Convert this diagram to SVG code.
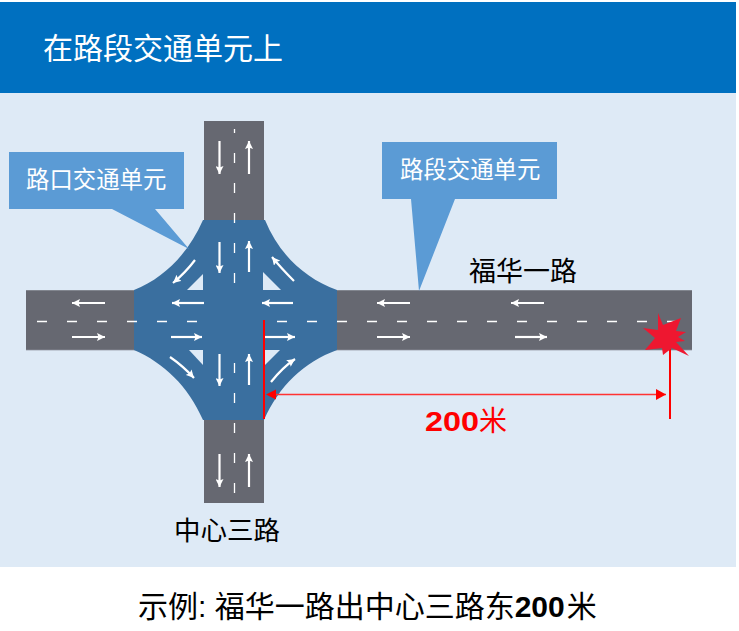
<svg xmlns="http://www.w3.org/2000/svg" width="739" height="631" viewBox="0 0 739 631">
<style>
text{font-family:"Liberation Sans","Noto Sans CJK SC",sans-serif}
.road{fill:#666871}
.edge{stroke:#8f939c;stroke-width:1;fill:none}
.w{fill:#fff;font-size:23.400px}
.k{fill:#000;font-size:27px}
.dash{stroke:#fff;stroke-width:1.300;fill:none}
.a{stroke:#fff;stroke-width:2.200;fill:none;marker-end:url(#wa)}
.hole{fill:#deeaf6}
</style>
<defs>
<marker id="wa" markerUnits="userSpaceOnUse" markerWidth="9" markerHeight="8" refX="8" refY="4" orient="auto"><path d="M0 0L8 4L0 8L1.500 4Z" fill="#fff"/></marker>
<marker id="ra" markerUnits="userSpaceOnUse" markerWidth="11" markerHeight="11" refX="10" refY="5.500" orient="auto"><path d="M0 0L10 5.500L0 11Z" fill="#f00"/></marker>
</defs>
<rect width="739" height="631" fill="#fff"/>
<g id="banner"><rect x="0" y="2" width="736" height="91" fill="#0070c0"/><text x="43" y="59" fill="#fff" font-size="30">在路段交通单元上</text></g>
<rect id="panel" x="0" y="93" width="736" height="474" fill="#deeaf6"/>
<g id="roads">
<rect class="road" x="204" y="121" width="60" height="382"/>
<rect class="road" x="26" y="290" width="666" height="60"/>
<path class="edge" d="M26 290.500H692M26 350H692" stroke-opacity="0.700"/>
</g>
<g id="junction">
<path d="M203 220H265C279 254 304 278 337 290V350C304 362 279 386 264 420H203C188 386 164 363 134 350V290C164 278 188 254 203 220Z" fill="#3a6f9f"/>
<path class="hole" d="M203 274V290H187Z"/><path class="hole" d="M263 272V290H281Z"/><path class="hole" d="M189 350H203V365Z"/><path class="hole" d="M265 350H280L265 365Z"/>
</g>
<g id="lane-markings">
<path class="dash" stroke-dasharray="10 20" d="M37 321.500H198M277 321.500H680"/>
<path class="dash" d="M234.500 129V133"/>
<path class="dash" stroke-dasharray="10 20" d="M234.500 153V284M234.500 363V495"/>
</g>
<g id="connectors">
<path class="a" d="M219.500 141V174"/><path class="a" d="M249 174V141"/>
<path class="a" d="M219.500 242V273"/><path class="a" d="M249 272V241"/>
<path class="a" d="M219.500 354V386"/><path class="a" d="M249 385V354"/>
<path class="a" d="M219.500 454V487"/><path class="a" d="M249 487V454"/>
<path class="a" d="M105 303H72"/><path class="a" d="M72 337H105"/>
<path class="a" d="M204 303H172"/><path class="a" d="M171 337H202"/>
<path class="a" d="M293 303H262"/><path class="a" d="M265 337H295"/>
<path class="a" d="M410 303H377"/><path class="a" d="M377 337H410"/>
<path class="a" d="M544 303H511"/><path class="a" d="M515 337H547"/>
<path class="a" d="M195 260Q186 272 173 283"/>
<path class="a" d="M294 281Q281 268 272 257"/>
<path class="a" d="M170 357Q183 366 194 378"/>
<path class="a" d="M271 382Q282 368 295 359"/>
<path d="M264 320V419" stroke="#f00" stroke-width="2" fill="none"/>
<path d="M670 345V419" stroke="#f00" stroke-width="2" fill="none"/>
<path d="M270 394.500H666" stroke="#f33" stroke-width="1.500" fill="none" marker-end="url(#ra)"/>
<path d="M266 394.500L276 389.500V399.500Z" fill="#f00"/>
</g>
<g id="callout-intersection"><path d="M9 152H184V209H155L189 249L112 209H9Z" fill="#5b9bd5"/><text class="w" x="26" y="188">路口交通单元</text></g>
<g id="callout-segment"><path d="M382 142H557V199H455L419 291L411 199H382Z" fill="#5b9bd5"/><text class="w" x="400" y="178">路段交通单元</text></g>
<g id="crash"><polygon fill="#ee1730" points="658,313 663,325 681,318 676,331 686,332 678,337 685,341 676,342 689,356 672,348 663,355 662,348 645,350 655,338 643,328 658,330"/></g>
<g id="labels">
<text class="k" x="469" y="281">福华一路</text>
<text x="174" y="540" fill="#000" font-size="26.500">中心三路</text>
<text x="425" y="431" fill="#f00" font-size="28" font-weight="bold" textLength="54" lengthAdjust="spacingAndGlyphs">200</text>
<text x="479" y="431" fill="#f00" font-size="28">米</text>
<text x="138" y="617" fill="#000" font-size="30">示例: 福华一路出中心三路东<tspan font-weight="bold">200</tspan><tspan dx="2">米</tspan></text>
</g>
</svg>
